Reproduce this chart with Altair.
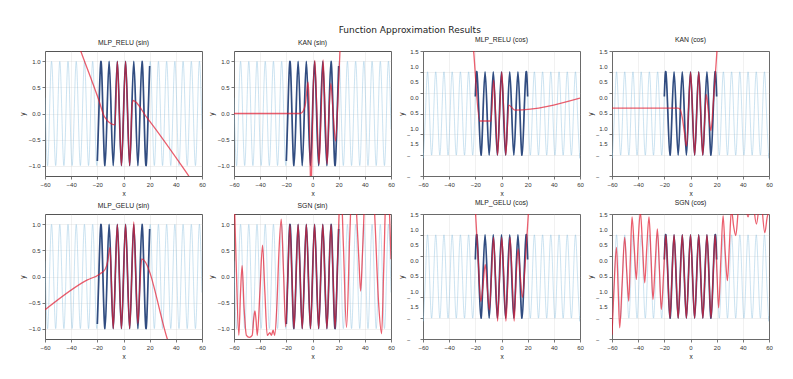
import altair as alt
import pandas as pd

FONT = "Liberation Sans"

# ---- true functions (sampled at quarter periods) ----
LIGHT_X = [-60.0, -59.69, -58.119, -56.549, -54.978, -53.407, -51.836, -50.265, -48.695, -47.124,
           -45.553, -43.982, -42.412, -40.841, -39.27, -37.699, -36.128, -34.558, -32.987, -31.416,
           -29.845, -28.274, -26.704, -25.133, -23.562, -21.991, -20.42, -18.85, -17.279, -15.708,
           -14.137, -12.566, -10.996, -9.425, -7.854, -6.283, -4.712, -3.142, -1.571, 0.0,
           1.571, 3.142, 4.712, 6.283, 7.854, 9.425, 10.996, 12.566, 14.137, 15.708,
           17.279, 18.85, 20.42, 21.991, 23.562, 25.133, 26.704, 28.274, 29.845, 31.416,
           32.987, 34.558, 36.128, 37.699, 39.27, 40.841, 42.412, 43.982, 45.553, 47.124,
           48.695, 50.265, 51.836, 53.407, 54.978, 56.549, 58.119, 59.69, 60.0]
LIGHT_SIN = [0.305, 0, -1, 0, 1, 0, -1, 0, 1, 0, -1, 0, 1, 0, -1, 0, 1, 0, -1, 0,
             1, 0, -1, 0, 1, 0, -1, 0, 1, 0, -1, 0, 1, 0, -1, 0, 1, 0, -1, 0,
             1, 0, -1, 0, 1, 0, -1, 0, 1, 0, -1, 0, 1, 0, -1, 0, 1, 0, -1, 0,
             1, 0, -1, 0, 1, 0, -1, 0, 1, 0, -1, 0, 1, 0, -1, 0, 1, 0, -0.305]
LIGHT_COS = [-0.952, -1, 0, 1, 0, -1, 0, 1, 0, -1, 0, 1, 0, -1, 0, 1, 0, -1, 0, 1,
             0, -1, 0, 1, 0, -1, 0, 1, 0, -1, 0, 1, 0, -1, 0, 1, 0, -1, 0, 1,
             0, -1, 0, 1, 0, -1, 0, 1, 0, -1, 0, 1, 0, -1, 0, 1, 0, -1, 0, 1,
             0, -1, 0, 1, 0, -1, 0, 1, 0, -1, 0, 1, 0, -1, 0, 1, 0, -1, -0.952]

TRAIN_X = [-20.0, -18.85, -17.279, -15.708, -14.137, -12.566, -10.996, -9.425, -7.854, -6.283,
           -4.712, -3.142, -1.571, 0.0, 1.571, 3.142, 4.712, 6.283, 7.854, 9.425,
           10.996, 12.566, 14.137, 15.708, 17.279, 18.85, 20.0]
TRAIN_SIN = [-0.913, 0, 1, 0, -1, 0, 1, 0, -1, 0, 1, 0, -1, 0, 1, 0, -1, 0, 1, 0,
             -1, 0, 1, 0, -1, 0, 0.913]
TRAIN_COS = [0.408, 1, 0, -1, 0, 1, 0, -1, 0, 1, 0, -1, 0, 1, 0, -1, 0, 1, 0, -1,
             0, 1, 0, -1, 0, 1, 0.408]

# ---- model predictions ----
RELU_SIN_X = [-40, -32.7, -18.5, -14.6, -6.5, -4.71, -3.14, -1.57, 0, 1.57, 3.14, 4.71, 6.4, 7.3, 17.6, 49.9, 56]
RELU_SIN_Y = [1.7, 1.2, 0.23, -0.06, -0.22, 1.0, 0.0, -1.0, 0.0, 1.0, 0.0, -1.0, 0.1, 0.25, -0.07, -1.2, -1.42]

KAN_SIN_X = [-60, -10.0, -8.0, -6.5, -5.3, -4.3, -3.4, -2.6, -1.9, -1.2, -0.5, 0.3, 1.8, 3.4, 5.0, 6.6,
             8.1, 9.7, 11.2, 12.6, 14.0, 15.8, 17.6, 19.5, 21.0, 22.5]
KAN_SIN_Y = [0.0, 0.0, 0.02, 0.08, 0.2, 0.45, 0.6, 0.2, -0.8, -1.6, -0.9, 0.2, 1.02, 0.0, -0.97, 0.0,
             1.03, 0.0, -0.97, 0.0, 0.58, 0.0, -0.53, 0.3, 1.2, 2.2]

RELU_COS_X = [-25, -21.3, -16.7, -8.0, -6.0, -4.5, -3.0, -1.4, 0.2, 1.8, 3.3, 5.5, 10.3, 60]
RELU_COS_Y = [2.85, 1.5, -0.18, -0.18, 0.8, 0.0, -1.0, 0.0, 1.0, 0.0, -1.0, 0.2, 0.08, 0.37]

KAN_COS_X = [-60, -9.5, -7.8, -6.3, -4.7, -3.0, -1.5, 0.1, 1.6, 3.2, 4.7, 6.3, 7.8, 9.3, 10.8, 12.0,
             13.8, 15.6, 17.3, 18.9, 20.2, 21.5]
KAN_COS_Y = [0.13, 0.13, 0.09, -0.1, -0.45, -0.78, 0.1, 0.99, 0.0, -1.0, 0.0, 1.0, 0.0, -1.0, -0.2, 0.46,
             0.0, -0.41, 0.2, 0.9, 1.5, 2.3]

GELU_SIN_X = [-60, -28, -18, -14, -12, -10.3, -9.1, -7.85, -6.28, -4.71, -3.14, -1.57, 0, 1.57, 3.14,
              4.71, 6.28, 7.85, 9.4, 11.0, 12.5, 13.9, 33.5, 60]
GELU_SIN_Y = [-0.64, -0.07, 0.05, 0.14, 0.3, 0.56, -0.2, -1.0, 0.0, 1.0, 0.0, -1.0, 0.0, 1.0, 0.0,
              -1.0, 0.0, 1.05, 0.0, -0.9, -0.2, 0.34, -1.2, -3.28]

SGN_SIN_X = [-60, -58.4, -56.3, -55.0, -53.8, -52.3, -50.5, -48.3, -46.1, -44.9, -44.0, -43.1, -42.2,
             -40.2, -38.2, -36.4, -34.6, -32.6, -31.4, -30.1, -28.9, -27.3, -25.6, -23.9, -22.1, -20.5,
             -18.85, -17.28, -15.71, -14.14, -12.57, -11.0, -9.42, -7.85, -6.28, -4.71, -3.14, -1.57,
             0.0, 1.57, 3.14, 4.71, 6.28, 7.85, 9.42, 11.0, 12.57, 14.14, 15.71, 17.28,
             18.9, 20.3, 21.8, 23.6, 26.0, 28.5, 31.0, 33.5, 35.5, 36.8, 38.3, 42.5, 47.5, 50.5,
             52.8, 54.5, 56.5, 58.5, 60]
SGN_SIN_Y = [1.7, 0.3, -1.13, -0.3, 0.21, -0.6, -1.13, -1.17, -1.13, -0.8, -0.66, -0.85, -1.13,
             -0.3, 0.6, -0.3, -1.13, -1.08, -1.13, -1.03, -1.13, -0.6, 0.5, 1.1, 0.05, -0.96,
             0, 1, 0, -1, 0, 1, 0, -1, 0, 1, 0, -1,
             0, 1, 0, -1, 0, 1, 0, -1, 0, 1, 0, -1,
             0.1, 1.2, 1.7, 0.6, -0.98, 0.8, 2.2, 1.3, 0.3, -0.28, 0.5, 3.0, 1.2, -0.5,
             -1.1, 0.2, 1.8, 1.4, 0.33]

GELU_COS_X = [-23, -19.8, -17.8, -15.8, -14.1, -12.4, -10.8, -9.3, -7.7, -6.1, -4.6, -3.0, -1.4, 0.2,
              1.8, 3.4, 5.0, 6.5, 8.1, 9.7, 11.2, 12.7, 14.4, 16.0, 18.3, 20.5, 23]
GELU_COS_Y = [3.0, 1.5, 0.4, -0.6, -0.2, 0.29, -0.3, -0.8, 0.0, 0.94, 0.0, -1.07, 0.0, 0.94,
              0.0, -1.07, 0.0, 0.94, 0.0, -1.07, 0.0, 0.66, 0.0, -0.5, 0.4, 1.5, 2.8]

SGN_COS_X = [-60, -58.5, -56.6, -55.3, -54.1, -52.3, -50.3, -48.7, -47.2, -46.0, -44.7, -43.0, -41.4,
             -39.9, -38.3, -36.6, -35.0, -33.4, -31.7, -30.2, -28.7, -27.0, -25.3, -23.8, -22.3, -20.5,
             -18.85, -17.28, -15.71, -14.14, -12.57, -11.0, -9.42, -7.85, -6.28, -4.71, -3.14, -1.57,
             0.0, 1.57, 3.14, 4.71, 6.28, 7.85, 9.42, 11.0, 12.57, 14.14, 15.71, 17.28, 18.85,
             20.2, 21.5, 23.2, 24.9, 26.5, 28.2, 29.8, 31.3, 33.0, 34.6, 36.5, 38.5, 41.5, 44.0,
             47.0, 50.4, 53.5, 56.8, 58.5, 60]
SGN_COS_Y = [-1.4, -0.3, 0.7, -0.3, -1.23, -0.2, 0.94, 0.1, -0.59, 0.4, 1.43, 0.7, -0.07,
             0.9, 1.55, 0.7, -0.15, 0.7, 1.43, 0.5, -0.55, 0.3, 1.14, 0.2, -0.79, 0.1,
             1, 0, -1, 0, 1, 0, -1, 0, 1, 0, -1, 0,
             1, 0, -1, 0, 1, 0, -1, 0, 1, 0, -1, 0, 1,
             0.1, -0.75, 0.4, 1.46, 0.6, -0.1, 0.8, 1.6, 1.2, 0.98, 1.6, 2.2, 1.8, 1.43,
             1.9, 1.26, 1.9, 1.05, 1.4, 1.6]

X_TICKS = [-60, -40, -20, 0, 20, 40, 60]
SIN_TICKS = [-1.0, -0.5, 0.0, 0.5, 1.0]
COS_TICKS = [-1.5, -1.0, -0.5, 0.0, 0.5, 1.0, 1.5]

LIGHT_COLOR = "#7fb8dc"
DARK_COLOR = "#1f3b73"
RED_COLOR = "#e31a2f"
W, H = 157, 125


def panel(title, kind, rx, ry):
    if kind == "sin":
        ly, ty, dom = LIGHT_SIN, TRAIN_SIN, [-1.2, 1.2]
    else:
        ly, ty, dom = LIGHT_COS, TRAIN_COS, [-1.5, 1.5]
    light = pd.DataFrame({"x": LIGHT_X, "y": ly})
    train = pd.DataFrame({"x": TRAIN_X, "y": ty})
    pred = pd.DataFrame({"x": rx, "y": ry})

    xs = alt.Scale(domain=[-60, 60], nice=False, zero=False)
    ys = alt.Scale(domain=dom, nice=False, zero=False)
    x_axis = alt.Axis(values=X_TICKS, title="x", labelFlush=False, labelOverlap=False)
    if kind == "sin":
        y_axis = alt.Axis(values=SIN_TICKS, title="y", format=".1f", labelOverlap=False)
        y_other = y_axis
    else:
        y_axis = alt.Axis(values=COS_TICKS, title="y", labelOverlap=False,
                          labelExpr="format(abs(datum.value), '.1f')",
                          labelOffset={"expr": "(datum.value - 1.5) * 10.7"},
                          titlePadding=5)
        y_other = None

    l1 = alt.Chart(light).mark_line(color=LIGHT_COLOR, strokeWidth=1, opacity=0.4,
                                    interpolate="natural", clip=True).encode(
        x=alt.X("x:Q", scale=xs, axis=x_axis),
        y=alt.Y("y:Q", scale=ys, axis=y_axis))
    l2 = alt.Chart(train).mark_line(color=DARK_COLOR, strokeWidth=1.7, opacity=0.9,
                                    interpolate="natural", clip=True).encode(
        x=alt.X("x:Q", scale=xs, axis=x_axis),
        y=alt.Y("y:Q", scale=ys, axis=y_other))
    l3 = alt.Chart(pred).mark_line(color=RED_COLOR, strokeWidth=1.3, opacity=0.7,
                                   interpolate="monotone", clip=True).encode(
        x=alt.X("x:Q", scale=xs, axis=x_axis),
        y=alt.Y("y:Q", scale=ys, axis=y_other))
    layers = [l1, l2, l3]
    if kind == "cos":
        minus = pd.DataFrame({"x": [-60, 60], "y": [0, 0]})
        l4 = alt.Chart(minus).mark_line(opacity=0, clip=True).encode(
            x=alt.X("x:Q", scale=xs, axis=x_axis),
            y=alt.Y("y:Q", scale=ys,
                    axis=alt.Axis(orient="left", values=COS_TICKS, title=None, ticks=False,
                                  tickSize=0, domain=False, grid=False, labelPadding=13,
                                  labelOverlap=False,
                                  labelExpr="datum.value < 0 ? '\u2212' : ''")))
        layers.append(l4)
    ch = alt.layer(*layers).properties(
        width=W, height=H,
        title=alt.TitleParams(text=title, fontSize=6.8, font=FONT, color="#222",
                              fontWeight="normal", offset=4, anchor="middle"))
    if kind == "cos":
        ch = ch.resolve_axis(y="independent")
    return ch


panels = [
    panel("MLP_RELU (sin)", "sin", RELU_SIN_X, RELU_SIN_Y),
    panel("KAN (sin)", "sin", KAN_SIN_X, KAN_SIN_Y),
    panel("MLP_RELU (cos)", "cos", RELU_COS_X, RELU_COS_Y),
    panel("KAN (cos)", "cos", KAN_COS_X, KAN_COS_Y),
    panel("MLP_GELU (sin)", "sin", GELU_SIN_X, GELU_SIN_Y),
    panel("SGN (sin)", "sin", SGN_SIN_X, SGN_SIN_Y),
    panel("MLP_GELU (cos)", "cos", GELU_COS_X, GELU_COS_Y),
    panel("SGN (cos)", "cos", SGN_COS_X, SGN_COS_Y),
]

chart = alt.concat(*panels, columns=4, spacing={"row": 38, "column": 32}, bounds="flush").properties(
    title=alt.TitleParams(text="Function Approximation Results", fontSize=9, font="DejaVu Sans",
                          fontWeight="normal", color="#222", anchor="middle", dx=14, offset=2),
    padding={"left": 10, "top": 17, "right": 4, "bottom": 4},
).configure_view(
    stroke="#555", strokeWidth=1
).configure_axis(
    labelFont=FONT, labelFontSize=6, labelColor="#333", labelPadding=2,
    titleFont=FONT, titleFontSize=6.5, titleFontWeight="normal", titleColor="#222",
    titlePadding=3, tickSize=3, tickColor="#555", tickWidth=0.8, domain=False,
    gridColor="#bbbbbb", gridOpacity=0.35, gridWidth=0.6
).configure_axisY(titlePadding=3)

chart.save("out.html", embed_options={"renderer": "svg", "actions": False})
